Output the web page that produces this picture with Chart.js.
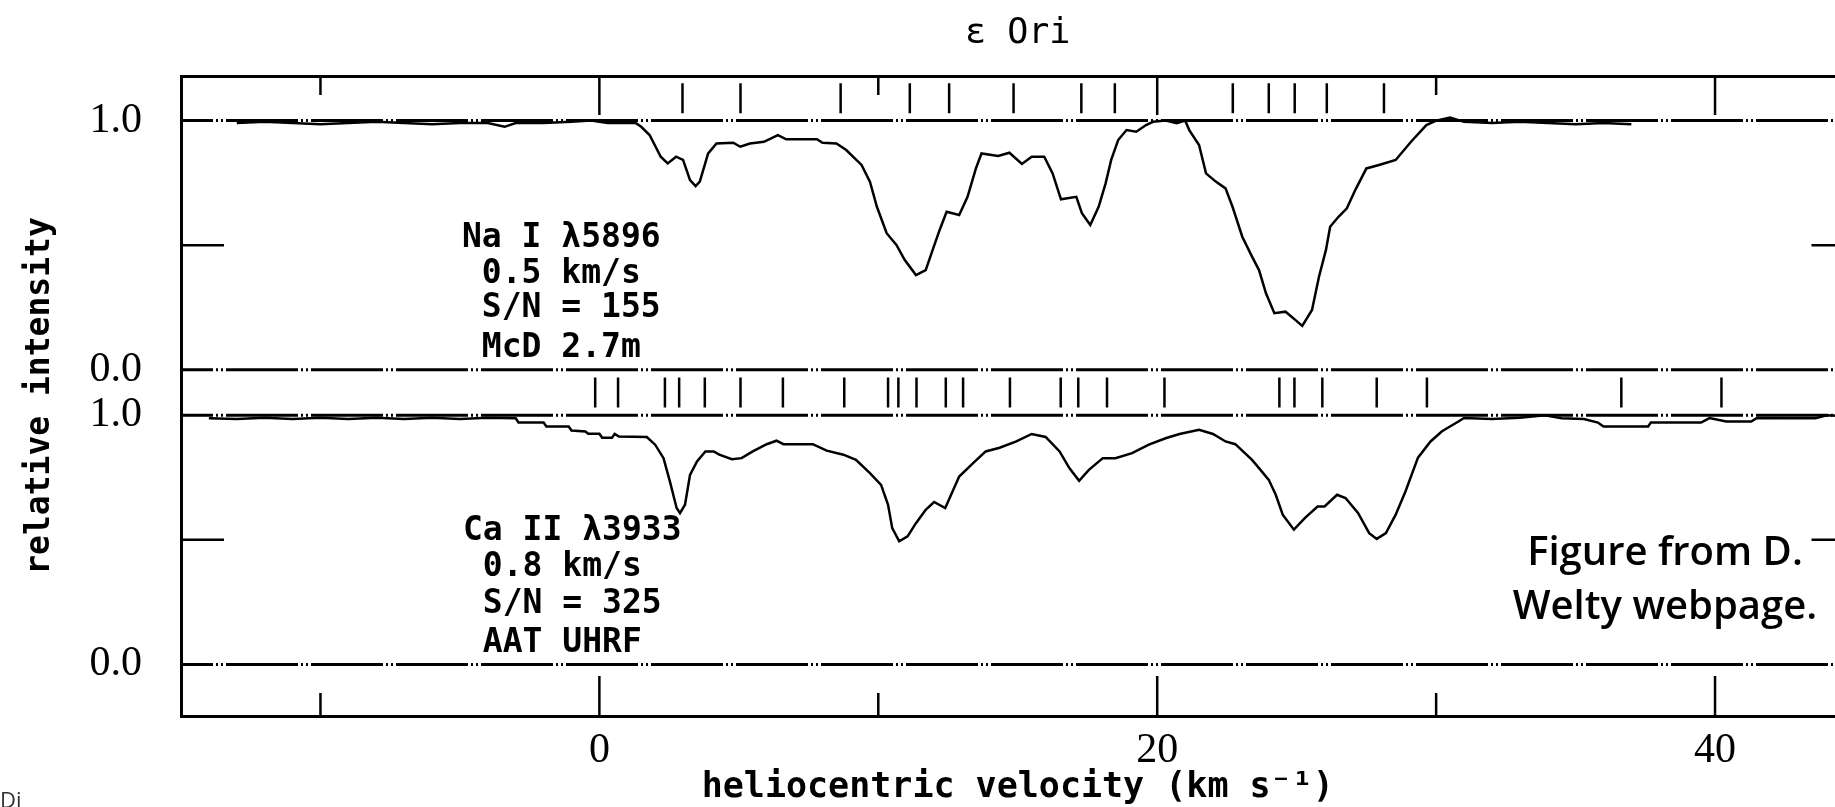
<!DOCTYPE html>
<html>
<head>
<meta charset="utf-8">
<script src="https://cdn.jsdelivr.net/npm/chart.js@4.4.0/dist/chart.umd.min.js"></script>
<style>
  html, body { margin: 0; padding: 0; background: #fff; overflow: hidden; }
  #wrap { width: 1872px; height: 807px; position: relative; }
</style>
</head>
<body>
<div id="wrap"><canvas id="myChart" width="1872" height="807"></canvas></div>
<script>
// axis values
const velocityRange = [-15, 45];
const xMajorTicks = [0, 20, 40];
const xMajorLabels = ['0', '20', '40'];
const xMinorTicks = [-10, 10, 30];
const yTickValues = [0, 0.5, 1];
const yTickLabels = ['0.0', '', '1.0'];

// Na I 5896 profile (top panel)
const naVel = [-13.0, -12.0, -11.0, -10.0, -9.0, -8.0, -7.0, -6.0, -5.0, -4.0,
  -3.4, -3.0, -2.0, -1.0, -0.3, 0.3, 0.8, 1.3, 1.5, 1.8,
  2.2, 2.45, 2.75, 3.0, 3.25, 3.45, 3.6, 3.9, 4.2, 4.8,
  5.05, 5.4, 5.9, 6.4, 6.7, 7.8, 8.0, 8.5, 8.85, 9.4,
  9.7, 9.95, 10.3, 10.65, 10.95, 11.35, 11.7, 11.95, 12.2, 12.45,
  12.9, 13.2, 13.5, 13.7, 14.3, 14.7, 15.15, 15.5, 15.95, 16.25,
  16.55, 17.1, 17.3, 17.6, 17.9, 18.15, 18.35, 18.6, 18.9, 19.25,
  19.6, 19.85, 20.3, 20.7, 21.0, 21.15, 21.5, 21.75, 22.1, 22.45,
  22.7, 23.05, 23.4, 23.65, 23.9, 24.2, 24.6, 24.95, 25.2, 25.55,
  25.8, 26.05, 26.2, 26.5, 26.8, 27.1, 27.5, 27.95, 28.55, 29.1,
  29.65, 30.0, 30.5, 31.0, 32.0, 33.0, 34.0, 35.0, 36.0, 37.0];
const naInt = [0.99, 0.995, 0.99, 0.985, 0.99, 0.995, 0.99, 0.985, 0.99, 0.99,
  0.975, 0.99, 0.99, 0.995, 1.0, 0.99, 0.99, 0.99, 0.975, 0.942,
  0.855, 0.828, 0.855, 0.842, 0.761, 0.737, 0.755, 0.868, 0.908, 0.911,
  0.895, 0.908, 0.915, 0.942, 0.925, 0.925, 0.911, 0.908, 0.882, 0.822,
  0.755, 0.654, 0.548, 0.501, 0.440, 0.380, 0.400, 0.481, 0.561, 0.634,
  0.621, 0.694, 0.808, 0.868, 0.858, 0.871, 0.826, 0.855, 0.855, 0.788,
  0.684, 0.694, 0.628, 0.581, 0.654, 0.748, 0.842, 0.922, 0.962, 0.955,
  0.982, 0.995, 1.0, 0.99, 1.0, 0.962, 0.902, 0.788, 0.755, 0.728,
  0.654, 0.534, 0.454, 0.400, 0.307, 0.227, 0.233, 0.200, 0.176, 0.240,
  0.373, 0.481, 0.574, 0.614, 0.648, 0.721, 0.808, 0.822, 0.842, 0.915,
  0.982, 1.0, 1.012, 0.995, 0.99, 0.995, 0.99, 0.985, 0.99, 0.985];

// Ca II 3933 profile (bottom panel)
const caVel = [-14.0, -13.0, -12.0, -11.0, -10.0, -9.0, -8.0, -7.0, -6.0, -5.0,
  -4.0, -3.0, -2.9, -2.0, -1.9, -1.1, -1.0, -0.5, -0.4, 0.0,
  0.1, 0.45, 0.55, 0.7, 1.7, 2.0, 2.3, 2.53, 2.77, 2.89,
  3.07, 3.25, 3.5, 3.8, 4.1, 4.3, 4.75, 5.1, 5.5, 6.0,
  6.35, 6.6, 7.65, 8.15, 8.75, 9.2, 9.7, 10.1, 10.35, 10.5,
  10.75, 11.05, 11.35, 11.7, 12.0, 12.4, 12.9, 13.4, 13.85, 14.35,
  14.95, 15.5, 16.0, 16.5, 16.85, 17.2, 17.55, 18.05, 18.5, 19.1,
  19.7, 20.3, 20.8, 21.5, 22.0, 22.45, 22.8, 23.4, 23.65, 24.0,
  24.25, 24.5, 24.9, 25.3, 25.75, 26.0, 26.45, 26.75, 27.2, 27.6,
  27.87, 28.2, 28.55, 28.9, 29.35, 29.8, 30.2, 30.45, 30.8, 31.0,
  32.0, 33.0, 33.9, 34.5, 35.3, 35.8, 36.0, 37.0, 37.6, 37.7,
  39.5, 39.8, 40.4, 41.3, 41.5, 43.6, 44.0, 45.0];
const caInt = [0.988, 0.985, 0.99, 0.985, 0.99, 0.985, 0.99, 0.985, 0.99, 0.985,
  0.99, 0.988, 0.971, 0.971, 0.955, 0.955, 0.939, 0.935, 0.926, 0.926,
  0.91, 0.91, 0.925, 0.915, 0.913, 0.882, 0.828, 0.734, 0.628, 0.607,
  0.641, 0.761, 0.815, 0.855, 0.855, 0.842, 0.824, 0.828, 0.855, 0.884,
  0.898, 0.884, 0.884, 0.858, 0.842, 0.821, 0.768, 0.721, 0.641, 0.547,
  0.494, 0.514, 0.567, 0.621, 0.652, 0.628, 0.754, 0.808, 0.855, 0.870,
  0.895, 0.925, 0.913, 0.855, 0.788, 0.737, 0.781, 0.828, 0.828, 0.848,
  0.882, 0.908, 0.925, 0.942, 0.925, 0.895, 0.884, 0.821, 0.788, 0.741,
  0.681, 0.601, 0.541, 0.588, 0.634, 0.634, 0.681, 0.668, 0.608, 0.527,
  0.504, 0.527, 0.601, 0.694, 0.830, 0.895, 0.935, 0.952, 0.975, 0.989,
  0.985, 0.99, 1.0, 0.988, 0.985, 0.971, 0.955, 0.955, 0.955, 0.971,
  0.971, 0.989, 0.975, 0.975, 0.989, 0.988, 1.0, 0.995];

// fitted component velocities (tick marks above each profile)
const naComponents = [2.98, 5.06, 8.65, 11.13, 12.54, 14.85, 17.28, 18.48, 22.71, 24.0, 24.93, 26.08, 28.13];
const caComponents = [-0.15, 0.67, 2.35, 2.86, 3.78, 5.06, 6.58, 8.78, 10.35, 10.72, 11.37, 12.42, 13.04,
  14.72, 16.54, 17.17, 18.2, 20.26, 24.38, 24.92, 25.92, 27.87, 29.67, 36.64, 40.23];

const naNotes = ['Na I λ5896', ' 0.5 km/s', ' S/N = 155', ' McD 2.7m'];
const caNotes = ['Ca II λ3933', ' 0.8 km/s', ' S/N = 325', ' AAT UHRF'];
const creditNotes = ['Figure from D.', 'Welty webpage.'];

// layout of the stacked panels on one y scale
const panelTop = 1.183;
const yMin = -0.207;
const yMax = 2.362;
const naMarkY = (panelTop + 1 + yMax) / 2;
const caMarkY = (1 + panelTop) / 2;

const monoFont = "'DejaVu Sans Mono', monospace";
const numFont = "'Liberation Serif', serif";

function spectrum(vel, inten, off) {
  return vel.map((v, i) => ({ x: v, y: inten[i] + off }));
}

function levelLine(level) {
  return {
    data: velocityRange.map(v => ({ x: v, y: level })),
    showLine: true, borderColor: '#000', borderWidth: 3,
    borderDash: [72, 3, 2, 3, 2, 3], borderDashOffset: 40,
    pointRadius: 0, order: 3
  };
}

function marks(values, yVal) {
  return {
    data: values.map(v => ({ x: v, y: yVal })),
    showLine: false, pointStyle: 'line', rotation: 90, pointRadius: 15,
    pointBorderWidth: 2.5, borderColor: '#000', order: 2
  };
}

const yLabelTicks = [];
[0, panelTop].forEach(off => {
  yTickValues.forEach((t, i) => {
    if (yTickLabels[i]) yLabelTicks.push({ value: off + t, label: yTickLabels[i] });
  });
});

const frameTicks = {
  id: 'frameTicks',
  afterDatasetsDraw(chart) {
    const { ctx, chartArea: a, scales: { x, y } } = chart;
    ctx.save();
    ctx.strokeStyle = '#000';
    ctx.lineWidth = 2.5;
    ctx.beginPath();
    xMajorTicks.forEach(v => {
      const px = x.getPixelForValue(v);
      ctx.moveTo(px, a.top); ctx.lineTo(px, a.top + 39);
      ctx.moveTo(px, a.bottom); ctx.lineTo(px, a.bottom - 40);
    });
    xMinorTicks.forEach(v => {
      const px = x.getPixelForValue(v);
      ctx.moveTo(px, a.top); ctx.lineTo(px, a.top + 19);
      ctx.moveTo(px, a.bottom); ctx.lineTo(px, a.bottom - 23);
    });
    [0, panelTop].forEach(off => {
      yTickValues.forEach((t, i) => {
        if (yTickLabels[i]) return;
        const py = y.getPixelForValue(off + t);
        ctx.moveTo(a.left, py); ctx.lineTo(a.left + 43, py);
        ctx.moveTo(a.right, py); ctx.lineTo(a.right - 43, py);
      });
    });
    ctx.stroke();
    ctx.restore();
  }
};

const notes = {
  id: 'notes',
  afterDraw(chart) {
    const ctx = chart.ctx;
    ctx.save();
    ctx.fillStyle = '#000';
    ctx.textAlign = 'left';
    ctx.textBaseline = 'alphabetic';
    ctx.font = "bold 33px " + monoFont;
    const naBase = [247, 283, 317, 357];
    const caBase = [540, 576, 613, 652];
    naNotes.forEach((t, i) => ctx.fillText(t, 462, naBase[i]));
    caNotes.forEach((t, i) => ctx.fillText(t, 463, caBase[i]));
    ctx.textAlign = 'center';
    ctx.font = "600 40px 'Open Sans', sans-serif";
    creditNotes.forEach((t, i) => ctx.fillText(t, 1665, 565 + i * 54));
    ctx.textAlign = 'left';
    ctx.font = "22px 'Open Sans', sans-serif";
    ctx.fillStyle = '#333';
    ctx.fillText('Di', 0, 808);
    ctx.restore();
  }
};

const ctx = document.getElementById('myChart').getContext('2d');
new Chart(ctx, {
  type: 'scatter',
  data: {
    datasets: [
      levelLine(panelTop + 1), levelLine(panelTop), levelLine(1), levelLine(0),
      marks(naComponents, naMarkY), marks(caComponents, caMarkY),
      { data: spectrum(naVel, naInt, panelTop), showLine: true, borderColor: '#000', borderWidth: 2.5, pointRadius: 0, order: 1 },
      { data: spectrum(caVel, caInt, 0), showLine: true, borderColor: '#000', borderWidth: 2.5, pointRadius: 0, order: 1 }
    ]
  },
  options: {
    responsive: false,
    animation: false,
    devicePixelRatio: 1,
    layout: { padding: { left: 0, right: 15, top: 0, bottom: 0 } },
    plugins: {
      legend: { display: false },
      tooltip: { enabled: false },
      title: {
        display: true, text: 'ε Ori', fullSize: false, color: '#000',
        font: { family: monoFont, size: 35, weight: 'normal', lineHeight: 1 },
        padding: { top: 16, bottom: 25 }
      }
    },
    scales: {
      x: {
        type: 'linear', position: 'bottom', min: velocityRange[0], max: velocityRange[1],
        afterBuildTicks: s => { s.ticks = xMajorTicks.map(v => ({ value: v })); },
        afterFit: s => { s.height = 91; },
        ticks: {
          callback: (v, i) => xMajorLabels[i], color: '#000', padding: 14,
          maxRotation: 0, autoSkip: false,
          font: { family: numFont, size: 42, lineHeight: 1 }
        },
        grid: { display: false, drawTicks: false },
        border: { display: true, color: '#000', width: 3 },
        title: {
          display: true, text: 'heliocentric velocity (km s⁻¹)', color: '#000',
          font: { family: monoFont, size: 35, weight: 'bold', lineHeight: 1 },
          padding: { top: 0, bottom: 2 }
        }
      },
      xTop: {
        type: 'linear', position: 'top', min: velocityRange[0], max: velocityRange[1],
        afterFit: s => { s.height = 0; },
        ticks: { display: false },
        grid: { display: false, drawTicks: false },
        border: { display: true, color: '#000', width: 3 }
      },
      y: {
        type: 'linear', position: 'left', min: yMin, max: yMax,
        afterBuildTicks: s => { s.ticks = yLabelTicks.map(t => ({ value: t.value })); },
        afterFit: s => { s.width = 181; },
        ticks: {
          callback: (v, i) => yLabelTicks[i].label, color: '#000', padding: 39,
          autoSkip: false, font: { family: numFont, size: 42, lineHeight: 1 }
        },
        grid: { display: false, drawTicks: false },
        border: { display: true, color: '#000', width: 3 },
        title: {
          display: true, text: 'relative intensity', color: '#000',
          font: { family: monoFont, size: 33, weight: 'bold', lineHeight: 1 },
          padding: { top: 24, bottom: 0 }
        }
      }
    }
  },
  plugins: [frameTicks, notes]
});
</script>
</body>
</html>
